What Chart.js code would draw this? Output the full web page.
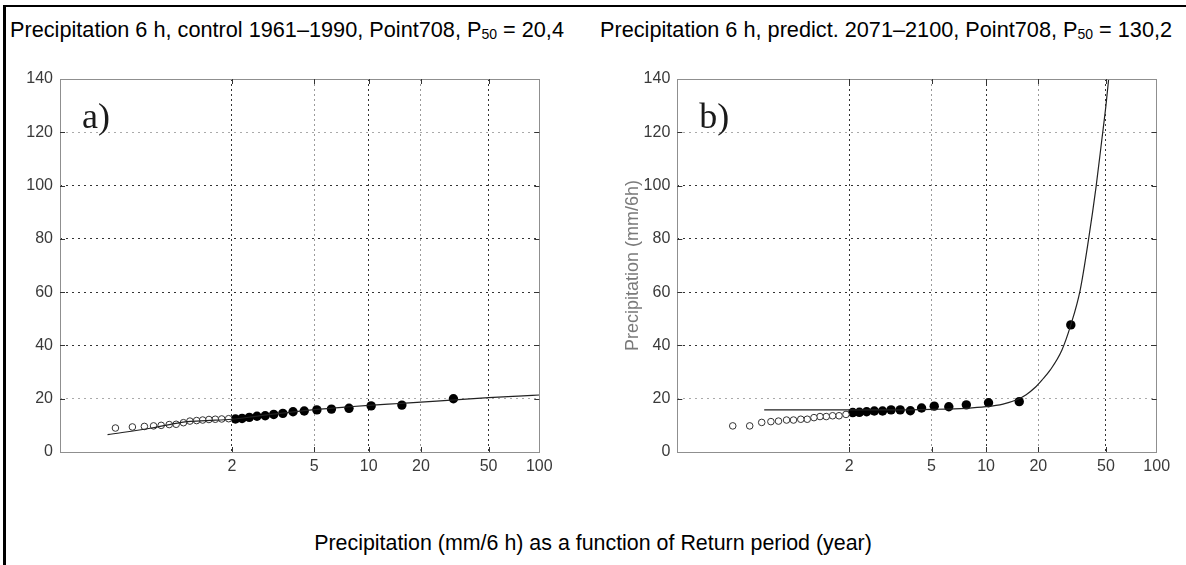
<!DOCTYPE html>
<html>
<head>
<meta charset="utf-8">
<script src="https://cdn.jsdelivr.net/npm/chart.js@4.4.1/dist/chart.umd.min.js"></script>
<style>
  body { margin: 0; background: #fff; width: 1186px; height: 565px; position: relative; overflow: hidden;
         font-family: "Liberation Sans", Arial, sans-serif; }
  .rule-top { position: absolute; left: 3px; top: 5px; width: 1183px; height: 2px; background: #000; }
  .rule-left { position: absolute; left: 3px; top: 5px; width: 3px; height: 560px; background: #000; }
  .title { position: absolute; top: 19px; font-size: 21.7px; line-height: 1; color: #000; white-space: nowrap; }
  .title .sub { font-size: 14px; vertical-align: -2px; }
  #caption { position: absolute; left: 0; width: 1186px; top: 533px; text-align: center;
             font-size: 21.4px; line-height: 1; color: #000; white-space: nowrap; }
  canvas { position: absolute; }
</style>
</head>
<body>
<div class="rule-top"></div>
<div class="rule-left"></div>
<div class="title" style="left:10px">Precipitation 6 h, control 1961–1990, Point708, P<span class="sub">50</span> = 20,4</div>
<div class="title" style="left:600px">Precipitation 6 h, predict. 2071–2100, Point708, P<span class="sub">50</span> = 130,2</div>
<canvas id="chartA" width="570" height="430" style="left:0px;top:60px"></canvas>
<canvas id="chartB" width="596" height="430" style="left:590px;top:60px"></canvas>
<div id="caption">Precipitation (mm/6 h) as a function of Return period (year)</div>

<script>
// x axis tick labels: return period in years
const returnTicks = [2, 5, 10, 20, 50, 100];

// plotting positions (years) of the ranked 6 h maxima, T >= 2 (filled) and T < 2 (open)
const periodsFilled = [31.0, 15.5, 10.33, 7.75, 6.2, 5.17, 4.43, 3.875, 3.44, 3.1, 2.82, 2.58, 2.38, 2.21, 2.07];
const periodsOpen = [1.94, 1.82, 1.72, 1.63, 1.55, 1.48, 1.41, 1.35, 1.29, 1.24, 1.19, 1.15, 1.11, 1.07, 1.033];

// control period 1961-1990 (mm/6h)
const controlFilled = [20.0, 17.6, 17.3, 16.4, 16.1, 15.8, 15.4, 15.1, 14.5, 14.1, 13.6, 13.4, 13.0, 12.6, 12.4];
const controlOpen = [12.5, 12.4, 12.3, 12.2, 12.0, 11.8, 11.6, 11.0, 10.4, 10.3, 10.0, 9.8, 9.6, 9.4, 9.0];
const controlFitT = [1.022, 1.14, 1.25, 1.39, 1.6, 2.0, 2.6, 3.8, 5, 7.5, 10, 15, 20, 30, 50, 75, 100];
const controlFitP = [6.5, 9.0, 10.4, 11.4, 11.8, 12.3, 13.5, 15.0, 15.9, 16.9, 17.5, 18.2, 18.7, 19.5, 20.4, 21.0, 21.4];

// prediction period 2071-2100 (mm/6h)
const predictFilled = [47.7, 18.9, 18.5, 17.7, 17.0, 17.2, 16.5, 15.5, 15.8, 15.8, 15.4, 15.4, 15.1, 14.9, 14.8];
const predictOpen = [14.1, 13.6, 13.6, 13.3, 13.3, 12.9, 12.3, 12.3, 12.0, 12.0, 11.6, 11.4, 11.1, 9.8, 9.8];
const predictFitT = [1.12, 2.0, 3.0, 5.0, 7.75, 10, 12.5, 15, 17, 19, 21, 23.5, 27.5, 31, 35.2, 39.4, 43.7, 47.2, 50, 53];
const predictFitP = [15.8, 15.8, 15.8, 16.0, 16.4, 17.0, 18.0, 19.6, 21.5, 24.0, 27.0, 30.8, 38.3, 47.7, 60.8, 79.6, 99.6, 117, 130.2, 146];

// Gumbel reduced variate for a return period T
function reducedVariate(T) {
    return -Math.log(-Math.log(1 - 1 / T));
}

// linear axis in the Gumbel reduced variate, values given as return periods
class GumbelScale extends Chart.LinearScale {
    determineDataLimits() {
        this.min = this.options.variateMin;
        this.max = reducedVariate(this.options.max);
    }
    buildTicks() {
        return returnTicks.map(v => ({ value: v }));
    }
    getPixelForValue(value) {
        return value === null ? NaN : super.getPixelForValue(reducedVariate(value));
    }
}
GumbelScale.id = 'gumbel';
GumbelScale.defaults = {};
Chart.register(GumbelScale);

Chart.defaults.font.family = '"Liberation Sans", Arial, sans-serif';
Chart.defaults.animation = false;

const toPoints = (xs, ys) => xs.map((x, i) => ({ x: x, y: ys[i] }));

// plot box, inward tick marks and panel letter
const framePlugin = {
    id: 'frame',
    afterDraw(chart, args, opts) {
        const { ctx, chartArea: a, scales } = chart;
        ctx.save();
        ctx.strokeStyle = '#8f8f8f';
        ctx.lineWidth = 1;
        ctx.strokeRect(Math.round(a.left) + 0.5, Math.round(a.top) + 0.5,
                       Math.round(a.right - a.left), Math.round(a.bottom - a.top));
        ctx.strokeStyle = '#333';
        ctx.beginPath();
        scales.x.ticks.forEach((t, i) => {
            if (t.value === 100) return;
            const px = Math.round(scales.x.getPixelForTick(i)) + 0.5;
            ctx.moveTo(px, a.bottom); ctx.lineTo(px, a.bottom - 5);
            ctx.moveTo(px, a.top); ctx.lineTo(px, a.top + 5);
        });
        scales.y.ticks.forEach((t, i) => {
            if (t.value === 0 || t.value === 140) return;
            const py = Math.round(scales.y.getPixelForTick(i)) + 0.5;
            ctx.moveTo(a.left, py); ctx.lineTo(a.left + 5, py);
            ctx.moveTo(a.right, py); ctx.lineTo(a.right - 5, py);
        });
        ctx.stroke();
        ctx.fillStyle = '#1a1a1a';
        ctx.font = '36px "Liberation Serif", "Times New Roman", serif';
        ctx.textBaseline = 'alphabetic';
        ctx.fillText(opts.label, a.left + 22, a.top + 49);
        ctx.restore();
    }
};

function makeChart(id, cfg) {
    const ctx = document.getElementById(id).getContext('2d');
    return new Chart(ctx, {
        type: 'scatter',
        data: {
            datasets: [
                {
                    type: 'line',
                    data: toPoints(cfg.fitT, cfg.fitP),
                    borderColor: '#222',
                    borderWidth: 1.2,
                    pointRadius: 0,
                    cubicInterpolationMode: 'monotone',
                    fill: false
                },
                {
                    data: toPoints(periodsOpen, cfg.open),
                    pointRadius: 3.3,
                    pointBackgroundColor: '#fff',
                    pointBorderColor: '#333',
                    pointBorderWidth: 1
                },
                {
                    data: toPoints(periodsFilled, cfg.filled),
                    pointRadius: 4.7,
                    pointBackgroundColor: '#000',
                    pointBorderColor: '#000',
                    pointBorderWidth: 0
                }
            ]
        },
        options: {
            responsive: false,
            events: [],
            layout: { padding: { top: 19, right: cfg.padRight, left: 0, bottom: 0 } },
            scales: {
                x: {
                    type: 'gumbel',
                    variateMin: -2,
                    max: 100,
                    afterFit: scale => { scale.height = 38; },
                    grid: {
                        drawTicks: false,
                        lineWidth: 1,
                        color: c => {
                            const v = c.tick && c.tick.value;
                            if (v === 100) return 'rgba(0,0,0,0)';
                            return (v === 5 || v === 20) ? '#9a9a9a' : '#333';
                        }
                    },
                    border: { display: false, dash: [2, 3] },
                    ticks: {
                        autoSkip: false,
                        maxRotation: 0,
                        padding: 5,
                        color: '#3a3a3a',
                        font: { size: 16 },
                        callback: v => String(v)
                    }
                },
                y: {
                    min: 0,
                    max: 140,
                    afterFit: scale => { scale.width = cfg.axisWidth; },
                    title: cfg.yTitle ? {
                        display: true,
                        text: cfg.yTitle,
                        color: '#7a7a7a',
                        font: { size: 18 },
                        padding: { top: 32, bottom: 0 }
                    } : { display: false },
                    grid: {
                        drawTicks: false,
                        lineWidth: 1,
                        color: c => {
                            const v = c.tick && c.tick.value;
                            if (v === 0 || v === 140) return 'rgba(0,0,0,0)';
                            return (v === 20 || v === 120) ? '#aaaaaa' : '#333';
                        }
                    },
                    border: { display: false, dash: [2, 4] },
                    ticks: {
                        stepSize: 20,
                        padding: 7,
                        color: '#3a3a3a',
                        font: { size: 16 }
                    }
                }
            },
            plugins: {
                legend: { display: false },
                tooltip: { enabled: false },
                frame: { label: cfg.label }
            }
        },
        plugins: [framePlugin]
    });
}

makeChart('chartA', {
    fitT: controlFitT, fitP: controlFitP,
    open: controlOpen, filled: controlFilled,
    label: 'a)', axisWidth: 60, padRight: 30.7
});

makeChart('chartB', {
    fitT: predictFitT, fitP: predictFitP,
    open: predictOpen, filled: predictFilled,
    label: 'b)', axisWidth: 87.3, padRight: 29.3,
    yTitle: 'Precipitation (mm/6h)'
});
</script>
</body>
</html>
